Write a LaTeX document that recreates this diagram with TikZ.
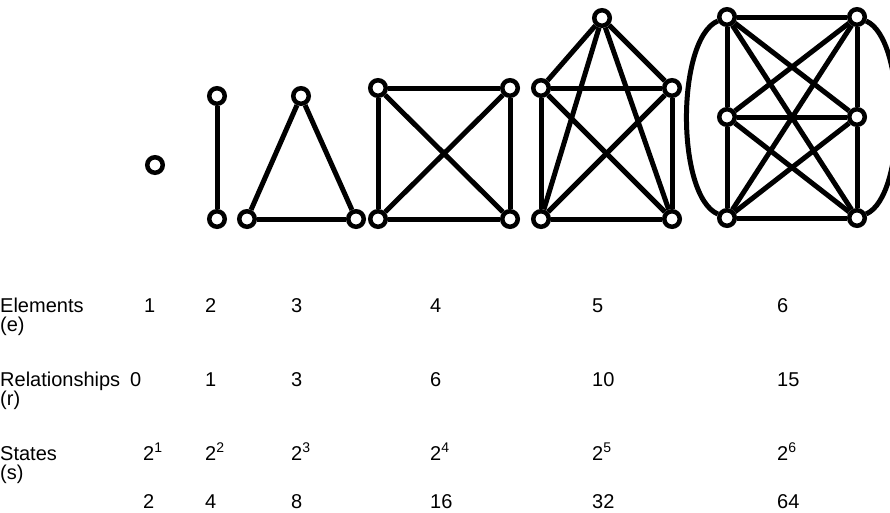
\documentclass[tikz,border=0pt]{standalone}
\usepackage{fontspec}
\setmainfont{Liberation Sans}
\begin{document}
\begin{tikzpicture}[x=1pt,y=-1pt,
  vtx/.style={circle,draw,fill=white,line width=4.5pt,minimum size=15.5pt,inner sep=0pt},
  edge/.style={line width=5pt},
  lbl/.style={anchor=base west,inner sep=0pt,font=\fontsize{20}{19}\selectfont},
  rowlbl/.style={lbl,align=left}]
\useasboundingbox (0,0) rectangle (890,512);
% graph 1
\node[vtx] (a1) at (155,165) {};
% graph 2
\node[vtx] (b1) at (217,96) {};
\node[vtx] (b2) at (217,219) {};
\draw[edge] (b1) -- (b2);
% graph 3
\node[vtx] (c1) at (301,96) {};
\node[vtx] (c2) at (247,219) {};
\node[vtx] (c3) at (356,219) {};
\draw[edge] (c1) -- (c2);
\draw[edge] (c1) -- (c3);
\draw[edge] (c2) -- (c3);
% graph 4
\node[vtx] (d1) at (378,88) {};
\node[vtx] (d2) at (510,88) {};
\node[vtx] (d3) at (378,219) {};
\node[vtx] (d4) at (510,219) {};
\foreach \p/\q in {d1/d2,d1/d3,d1/d4,d2/d3,d2/d4,d3/d4}
  \draw[edge] (\p) -- (\q);
% graph 5
\node[vtx] (e0) at (602,18) {};
\node[vtx] (e1) at (541,88) {};
\node[vtx] (e2) at (672,88) {};
\node[vtx] (e3) at (541,219) {};
\node[vtx] (e4) at (672,219) {};
\foreach \p/\q in {e0/e1,e0/e2,e0/e3,e0/e4,e1/e2,e1/e3,e1/e4,e2/e3,e2/e4,e3/e4}
  \draw[edge] (\p) -- (\q);
% graph 6
\node[vtx] (f1) at (727,17) {};
\node[vtx] (f2) at (857,17) {};
\node[vtx] (f3) at (727,117) {};
\node[vtx] (f4) at (857,117) {};
\node[vtx] (f5) at (727,218) {};
\node[vtx] (f6) at (857,218) {};
\foreach \p/\q in {f1/f2,f1/f3,f1/f4,f1/f6,f2/f3,f2/f4,f2/f5,f3/f4,f3/f5,f3/f6,f4/f5,f4/f6,f5/f6}
  \draw[edge] (\p) -- (\q);
\draw[edge] (f1) .. controls +(-51,22) and +(-51,-22) .. (f5);
\draw[edge] (f2) .. controls +(50,22) and +(50,-22) .. (f6);
% labels
\node[rowlbl] (le) at (0,331) {Elements\\(e)};
\node[rowlbl] (lr) at (0,405) {Relationships\\(r)};
\node[rowlbl] (ls) at (0,479) {States\\(s)};
% values
\node[lbl] (ve1) at (144,312) {1};
\node[lbl] (ve2) at (205,312) {2};
\node[lbl] (ve3) at (291,312) {3};
\node[lbl] (ve4) at (430,312) {4};
\node[lbl] (ve5) at (592,312) {5};
\node[lbl] (ve6) at (777,312) {6};
\node[lbl] (vr1) at (130,386) {0};
\node[lbl] (vr2) at (205,386) {1};
\node[lbl] (vr3) at (291,386) {3};
\node[lbl] (vr4) at (430,386) {6};
\node[lbl] (vr5) at (592,386) {10};
\node[lbl] (vr6) at (777,386) {15};
\node[lbl] (vs1) at (143,460) {2\textsuperscript{1}};
\node[lbl] (vs2) at (205,460) {2\textsuperscript{2}};
\node[lbl] (vs3) at (291,460) {2\textsuperscript{3}};
\node[lbl] (vs4) at (430,460) {2\textsuperscript{4}};
\node[lbl] (vs5) at (592,460) {2\textsuperscript{5}};
\node[lbl] (vs6) at (777,460) {2\textsuperscript{6}};
\node[lbl] (vn1) at (143,508) {2};
\node[lbl] (vn2) at (205,508) {4};
\node[lbl] (vn3) at (291,508) {8};
\node[lbl] (vn4) at (430,508) {16};
\node[lbl] (vn5) at (592,508) {32};
\node[lbl] (vn6) at (777,508) {64};
\end{tikzpicture}
\end{document}
